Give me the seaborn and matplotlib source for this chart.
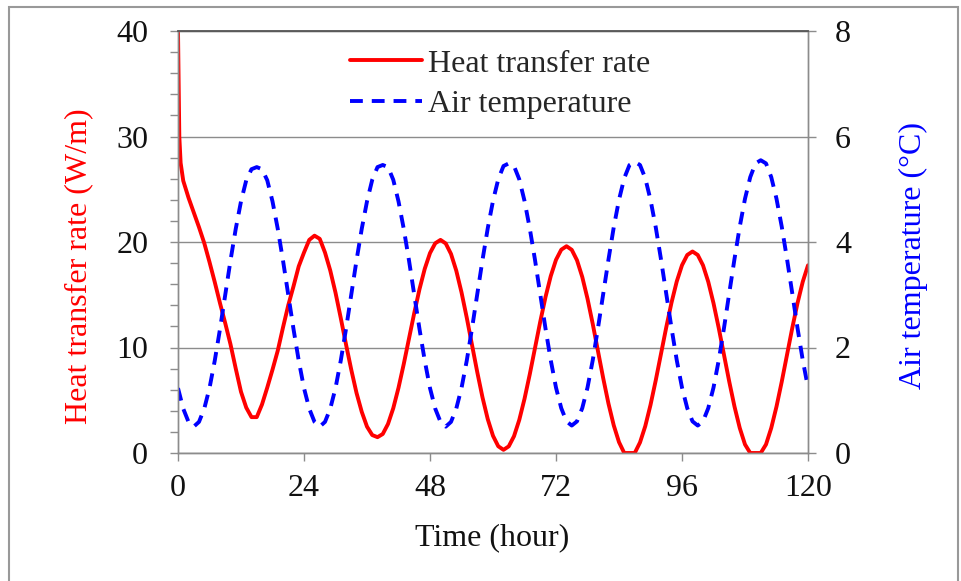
import numpy as np
import pandas as pd
import matplotlib
matplotlib.use('Agg')
import matplotlib.pyplot as plt
import seaborn as sns
from matplotlib.patches import Rectangle
from matplotlib.ticker import MultipleLocator

# heat transfer rate (W/m)
heat_time = [0, 0.25, 0.5] + list(range(1, 121))
heat_rate = [40.0, 30.0, 27.5,
             25.8, 24.2, 22.8, 21.4, 19.9, 18.1, 16.2, 14.2, 12.3, 10.3,
             8.0, 5.8, 4.3, 3.4, 3.4, 4.6, 6.2, 7.9, 9.7, 11.9,
             14.0, 15.8, 17.7, 19.0, 20.2, 20.6, 20.3, 19.0, 17.3, 15.2,
             12.8, 10.3, 7.9, 5.7, 3.9, 2.5, 1.7, 1.5, 1.8, 2.75,
             4.24, 6.18, 8.43, 10.85, 13.27, 15.53, 17.46, 18.95, 19.88, 20.2,
             19.86, 18.87, 17.29, 15.23, 12.83, 10.25, 7.67, 5.27, 3.21, 1.63,
             0.64, 0.3, 0.63, 1.59, 3.13, 5.13, 7.45, 9.95, 12.45, 14.78,
             16.77, 18.31, 19.27, 19.6, 19.26, 18.27, 16.69, 14.63, 12.23, 9.65,
             7.07, 4.67, 2.62, 1.03, 0.0, 0.0, 0.0, 1.0, 2.54, 4.55,
             6.89, 9.4, 11.91, 14.25, 16.26, 17.8, 18.77, 19.1, 18.77, 17.79,
             16.23, 14.2, 11.84, 9.3, 6.76, 4.4, 2.37, 0.81, 0.0, 0.0,
             0.0, 0.81, 2.37, 4.4, 6.76, 9.3, 11.84, 14.2, 16.23, 17.79]

# air temperature (deg C), hourly
air_time = list(range(0, 121))
air_temp = [1.23, 0.84, 0.59,
            0.50, 0.59, 0.84, 1.23, 1.75, 2.35, 3.00, 3.65, 4.25, 4.77, 5.17, 5.38,
            5.42, 5.38, 5.17, 4.77, 4.25, 3.65, 3.00, 2.35, 1.75, 1.23, 0.84, 0.59,
            0.50, 0.59, 0.84, 1.23, 1.75, 2.35, 3.00, 3.65, 4.25, 4.77, 5.18, 5.42,
            5.46, 5.42, 5.18, 4.77, 4.25, 3.65, 3.00, 2.35, 1.75, 1.23, 0.84, 0.59,
            0.50, 0.59, 0.84, 1.23, 1.75, 2.36, 3.01, 3.66, 4.26, 4.78, 5.19, 5.44,
            5.49, 5.44, 5.19, 4.78, 4.26, 3.66, 3.01, 2.36, 1.76, 1.24, 0.85, 0.60,
            0.52, 0.60, 0.85, 1.24, 1.76, 2.37, 3.02, 3.67, 4.28, 4.80, 5.21, 5.46,
            5.52, 5.46, 5.21, 4.80, 4.28, 3.67, 3.02, 2.37, 1.76, 1.24, 0.85, 0.60,
            0.52, 0.60, 0.85, 1.24, 1.76, 2.37, 3.03, 3.68, 4.29, 4.82, 5.23, 5.49,
            5.55, 5.49, 5.23, 4.82, 4.29, 3.68, 3.03, 2.37, 1.76, 1.24]

x_ticks = [0, 24, 48, 72, 96, 120]

heat_df = pd.DataFrame({'time': heat_time, 'rate': heat_rate})
air_df = pd.DataFrame({'time': air_time, 'temp': air_temp})

sns.set_style('white')
plt.rcParams['font.family'] = ['Liberation Serif', 'DejaVu Serif']
fs = 23

fig = plt.figure(figsize=(9.61, 5.81), dpi=100)
ax = fig.add_axes([178 / 961, 128 / 581, 630 / 961, 422 / 581])
ax2 = ax.twinx()

sns.lineplot(data=heat_df, x='time', y='rate', ax=ax, color='#ff0000',
             linewidth=2.8, label='Heat transfer rate', legend=False)
sns.lineplot(data=air_df, x='time', y='temp', ax=ax2, color='#0000ff',
             linewidth=2.8, dashes=False, label='Air temperature', legend=False)
ax2.lines[0].set_dashes([3.3, 2.3])

ax.set_xlim(0, 120)
ax.set_ylim(0, 40)
ax2.set_ylim(0, 8)
ax.set_xticks(x_ticks)
ax.yaxis.set_major_locator(MultipleLocator(10))
ax.yaxis.set_minor_locator(MultipleLocator(2))
ax2.yaxis.set_major_locator(MultipleLocator(2))

ax.grid(axis='y', which='major', color='#8c8c8c', linewidth=1.0)
ax.set_axisbelow(True)

for a in (ax, ax2):
    for s in a.spines.values():
        s.set_color('#8c8c8c')
        s.set_linewidth(1.0)
ax2.spines['top'].set_color('#555555')
ax2.spines['top'].set_linewidth(1.3)

ax.tick_params(axis='y', which='both', direction='out', length=6, width=1,
               color='#8c8c8c', left=True, labelsize=fs, labelcolor='#111111', pad=15.5)
ax.tick_params(axis='x', direction='out', length=6, width=1, color='#8c8c8c',
               bottom=True, labelsize=fs, labelcolor='#111111', pad=9)
ax2.tick_params(axis='y', direction='out', length=6, width=1, color='#8c8c8c',
                right=True, labelsize=fs, labelcolor='#111111', pad=13.5)

ax.set_xlabel('Time (hour)', fontsize=fs, color='#111111')
ax.set_ylabel('Heat transfer rate (W/m)', fontsize=fs, color='#ff0000')
ax2.set_ylabel('Air temperature (\u00b0C)', fontsize=fs, color='#0000ff')
ax.xaxis.set_label_coords(0.498, -0.166)
ax.yaxis.set_label_coords(-0.135, 0.443)
ax2.yaxis.set_label_coords(1.145, 0.469)

h1, l1 = ax.get_legend_handles_labels()
h2, l2 = ax2.get_legend_handles_labels()
ax2.legend(h1 + h2, l1 + l2, loc='upper left', bbox_to_anchor=(0.273, 0.957),
           frameon=False, fontsize=fs, handlelength=2.25, handletextpad=0.2,
           labelspacing=0.35, borderpad=0, borderaxespad=0)

fig.patches.append(Rectangle((9 / 961, -0.02), 949 / 961, 1 - 7 / 581 + 0.02,
                             transform=fig.transFigure, fill=False,
                             edgecolor='#999999', linewidth=1.5))

fig.savefig('out.png', dpi=100)
